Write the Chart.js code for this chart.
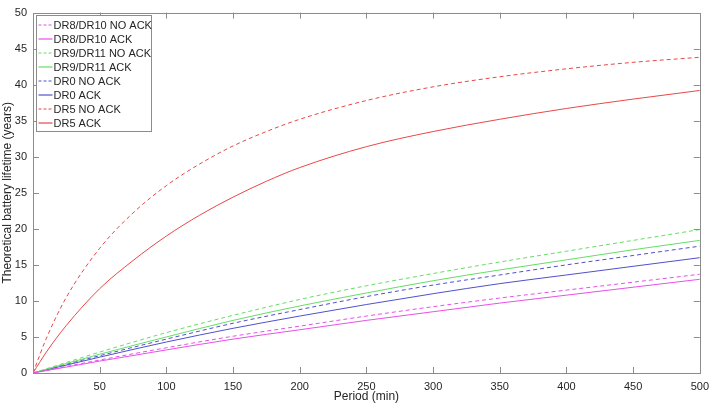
<!DOCTYPE html>
<html>
<head>
<meta charset="utf-8">
<script src="https://cdn.jsdelivr.net/npm/chart.js@4"></script>
<style>
  html, body { margin: 0; padding: 0; background: #fff; }
  #wrap { width: 716px; height: 411px; }
</style>
</head>
<body>
<div id="wrap"><canvas id="myChart"></canvas></div>
<script>
// period (min) at which the values were read
const periodRed = [0, 10, 25, 50, 75, 100, 125, 150, 175, 200, 250, 300, 350, 400, 450, 500];
const dr5NoAck = [0, 4.8, 10.5, 17.3, 22.2, 26.0, 29.0, 31.5, 33.5, 35.2, 37.8, 39.7, 41.1, 42.2, 43.1, 43.8];
const dr5Ack   = [0, 2.9, 6.6, 11.7, 15.6, 19.0, 21.9, 24.4, 26.6, 28.5, 31.4, 33.5, 35.2, 36.7, 38.0, 39.2];

const period = [0, 50, 100, 150, 200, 250, 300, 350, 400, 450, 500];
const dr9NoAck = [0, 2.9, 5.6, 8.0, 10.2, 12.1, 13.8, 15.4, 16.9, 18.4, 19.9];
const dr9Ack   = [0, 2.6, 5.0, 7.3, 9.3, 11.1, 12.8, 14.3, 15.7, 17.1, 18.4];
const dr0NoAck = [0, 2.4, 4.7, 6.9, 8.8, 10.6, 12.2, 13.6, 15.0, 16.3, 17.6];
const dr0Ack   = [0, 2.2, 4.3, 6.2, 7.9, 9.5, 11.0, 12.4, 13.6, 14.8, 16.0];
const dr8NoAck = [0, 1.8, 3.5, 5.1, 6.5, 7.9, 9.2, 10.4, 11.5, 12.6, 13.7];
const dr8Ack   = [0, 1.65, 3.2, 4.7, 6.0, 7.3, 8.5, 9.7, 10.8, 11.9, 13.0];

const labels = ['DR8/DR10 NO ACK', 'DR8/DR10 ACK', 'DR9/DR11 NO ACK', 'DR9/DR11 ACK',
                'DR0 NO ACK', 'DR0 ACK', 'DR5 NO ACK', 'DR5 ACK'];

const RED = 'rgb(232,72,72)';
const GREEN = 'rgb(100,222,100)';
const BLUE = 'rgb(80,80,205)';
const MAGENTA = 'rgb(232,80,232)';
const DASH = [4, 3];

const lineColors = [MAGENTA, MAGENTA, GREEN, GREEN, BLUE, BLUE, RED, RED];
const lineDashed = [true, false, true, false, true, false, true, false];

function pts(xs, ys) {
  return xs.map((x, i) => ({ x: x, y: ys[i] }));
}

function ds(i, xs, ys) {
  return {
    label: labels[i],
    data: pts(xs, ys),
    borderColor: lineColors[i],
    backgroundColor: lineColors[i],
    borderWidth: 1,
    borderDash: lineDashed[i] ? DASH : [],
    pointRadius: 0,
    fill: false,
    cubicInterpolationMode: 'monotone'
  };
}

const data = {
  datasets: [
    ds(0, period, dr8NoAck),
    ds(1, period, dr8Ack),
    ds(2, period, dr9NoAck),
    ds(3, period, dr9Ack),
    ds(4, period, dr0NoAck),
    ds(5, period, dr0Ack),
    ds(6, periodRed, dr5NoAck),
    ds(7, periodRed, dr5Ack)
  ]
};

// box round the plot with inward ticks on all four sides, matlab style
const frame = {
  id: 'frame',
  afterDraw(chart) {
    const c = chart.ctx, a = chart.chartArea;
    const xs = chart.scales.x, ys = chart.scales.y;
    c.save();
    c.strokeStyle = '#8c8c8c';
    c.lineWidth = 1;
    c.strokeRect(Math.round(a.left) + 0.5, Math.round(a.top) + 0.5,
                 Math.round(a.right - a.left), Math.round(a.bottom - a.top));
    c.beginPath();
    xs.ticks.forEach(t => {
      if (t.value <= xs.min || t.value >= xs.max) return;
      const px = Math.round(xs.getPixelForValue(t.value)) + 0.5;
      c.moveTo(px, a.bottom); c.lineTo(px, a.bottom - 6);
      c.moveTo(px, a.top); c.lineTo(px, a.top + 6);
    });
    ys.ticks.forEach(t => {
      if (t.value <= ys.min || t.value >= ys.max) return;
      const py = Math.round(ys.getPixelForValue(t.value)) + 0.5;
      c.moveTo(a.left, py); c.lineTo(a.left + 6, py);
      c.moveTo(a.right, py); c.lineTo(a.right - 6, py);
    });
    c.stroke();

    // legend inside the plot, top left
    const lx = Math.round(a.left) + 3.5, ly = Math.round(a.top) + 2.5;
    const w = 115, rowH = 14, h = rowH * labels.length + 4;
    c.fillStyle = '#fff';
    c.fillRect(lx, ly, w, h);
    c.strokeRect(lx, ly, w, h);
    c.font = '11px "Liberation Sans", Arial, sans-serif';
    c.textBaseline = 'middle';
    for (let i = 0; i < labels.length; i++) {
      const y = Math.round(ly + 9 + i * rowH);
      c.strokeStyle = lineColors[i];
      c.lineWidth = 1.2;
      c.setLineDash(lineDashed[i] ? [3, 2] : []);
      c.beginPath();
      c.moveTo(lx + 2, y);
      c.lineTo(lx + 16, y);
      c.stroke();
      c.setLineDash([]);
      c.fillStyle = '#262626';
      c.fillText(labels[i], lx + 17, y + 0.5);
    }
    c.restore();
  }
};

const tickFont = { family: '"Liberation Sans", Arial, sans-serif', size: 11 };
const titleFont = { family: '"Liberation Sans", Arial, sans-serif', size: 12 };

const config = {
  type: 'line',
  data: data,
  options: {
    responsive: true,
    maintainAspectRatio: false,
    animation: false,
    layout: { padding: { top: 12, right: 13, left: 0, bottom: 0 } },
    plugins: {
      legend: { display: false },
      tooltip: { enabled: false }
    },
    scales: {
      x: {
        type: 'linear',
        min: 0,
        max: 500,
        grid: { display: false, drawTicks: false },
        border: { display: false },
        ticks: {
          stepSize: 50,
          padding: 7,
          color: '#262626',
          font: tickFont,
          maxRotation: 0,
          callback: v => (v === 0 ? '' : v)
        },
        title: {
          display: true,
          text: 'Period (min)',
          color: '#262626',
          font: titleFont,
          padding: { top: 0, bottom: 7 }
        },
        afterFit: s => { s.height = 38; }
      },
      y: {
        min: 0,
        max: 50,
        grid: { display: false, drawTicks: false },
        border: { display: false },
        ticks: {
          stepSize: 5,
          padding: 6,
          color: '#262626',
          font: tickFont
        },
        title: {
          display: true,
          text: 'Theoretical battery lifetime (years)',
          color: '#262626',
          font: titleFont,
          padding: { top: 0, bottom: 0 }
        },
        afterFit: s => { s.width = 33; }
      }
    }
  },
  plugins: [frame]
};

const ctx = document.getElementById('myChart');
let chart = new Chart(ctx, config);
</script>
</body>
</html>
